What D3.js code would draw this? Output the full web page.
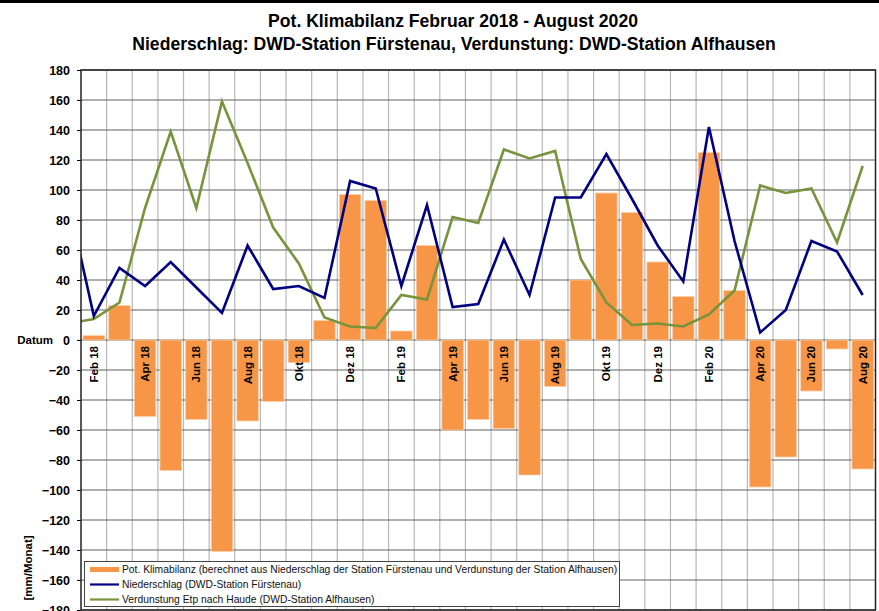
<!DOCTYPE html>
<html>
<head>
<meta charset="utf-8">
<script src="https://cdn.jsdelivr.net/npm/d3@7"></script>
<style>
  html, body { margin: 0; padding: 0; background: #fff; }
  svg { display: block; font-family: "Liberation Sans", Arial, sans-serif; }
</style>
</head>
<body>
<svg id="chart" width="879" height="611"></svg>
<script>
// Months: Jan 18 is only used for the clipped line segment at the left edge
const months = ["Jan 18","Feb 18","Mrz 18","Apr 18","Mai 18","Jun 18","Jul 18","Aug 18","Sep 18","Okt 18","Nov 18","Dez 18",
  "Jan 19","Feb 19","Mrz 19","Apr 19","Mai 19","Jun 19","Jul 19","Aug 19","Sep 19","Okt 19","Nov 19","Dez 19",
  "Jan 20","Feb 20","Mrz 20","Apr 20","Mai 20","Jun 20","Jul 20","Aug 20"];
const barMonths = months.slice(1);
const tickLabels = ["Feb 18","Apr 18","Jun 18","Aug 18","Okt 18","Dez 18","Feb 19","Apr 19","Jun 19","Aug 19","Okt 19","Dez 19","Feb 20","Apr 20","Jun 20","Aug 20"];
// Pot. Klimabilanz (Feb 18 – Aug 20)
const klimabilanz = [3,23,-51,-87,-53,-141,-54,-41,-15,13,97,93,6,63,-60,-53,-59,-90,-31,40,98,85,52,29,125,33,-98,-78,-34,-6,-86];
// Niederschlag (Jan 18 – Aug 20)
const niederschlag = [93,16,48,36,52,35,18,63,34,36,28,106,101,36,90,22,24,67,30,95,95,124,94,63,39,142,66,5,20,66,59,30];
// Verdunstung Etp nach Haude (Jan 18 – Aug 20)
const verdunstung = [11,14,25,88,139,88,159,118,75,51,15,9,8,30,27,82,78,127,121,126,54,25,10,11,9,17,33,103,98,101,65,116];
const yTicks = d3.range(-180, 181, 20);
const title1 = "Pot. Klimabilanz Februar 2018 - August 2020";
const title2 = "Niederschlag: DWD-Station Fürstenau, Verdunstung: DWD-Station Alfhausen";
const legendLabels = [
  "Pot. Klimabilanz (berechnet aus Niederschlag der Station Fürstenau und Verdunstung der Station Alfhausen)",
  "Niederschlag (DWD-Station Fürstenau)",
  "Verdunstung Etp nach Haude (DWD-Station Alfhausen)"
];

const colBar = "#F79646", colN = "#000080", colV = "#77933C";
const L = 81, R = 875.5, T = 70, B = 610;
const bw = (R - L) / barMonths.length;

const svg = d3.select("#chart");
const x = d3.scaleBand().domain(months).range([L - bw, R]).paddingInner(0.16).paddingOuter(0.08);
const xc = d3.scalePoint().domain(months).range([L - bw / 2, R - bw / 2]);
const y = d3.scaleLinear().domain([-180, 180]).range([B, T]);

// top black rule
svg.append("rect").attr("x", 0).attr("y", 0).attr("width", 879).attr("height", 3).attr("fill", "#000");

// titles
svg.append("text").attr("x", 453).attr("y", 27).attr("text-anchor", "middle")
  .attr("font-size", 17.6).attr("font-weight", "bold").text(title1);
svg.append("text").attr("x", 454).attr("y", 50).attr("text-anchor", "middle")
  .attr("font-size", 17.6).attr("font-weight", "bold").text(title2);

// vertical gridlines at category boundaries
const vb = d3.range(1, barMonths.length).map(i => L + i * bw);
svg.append("g").selectAll("line").data(vb).join("line")
  .attr("x1", d => d).attr("x2", d => d).attr("y1", T).attr("y2", B)
  .attr("stroke", "#b8b8b8").attr("stroke-width", 1.2);

// horizontal gridlines
svg.append("g").selectAll("line").data(yTicks).join("line")
  .attr("x1", L).attr("x2", R).attr("y1", d => y(d)).attr("y2", d => y(d))
  .attr("stroke", "#606060").attr("stroke-width", 1);

// bars
svg.append("g").selectAll("rect").data(klimabilanz).join("rect")
  .attr("x", (d, i) => x(barMonths[i]))
  .attr("width", x.bandwidth())
  .attr("y", d => y(Math.max(0, d)))
  .attr("height", d => Math.abs(y(d) - y(0)))
  .attr("fill", colBar).attr("stroke", "#fbd0ac").attr("stroke-width", 0.8);

// clip for lines
svg.append("clipPath").attr("id", "plotclip").append("rect")
  .attr("x", L).attr("y", T).attr("width", R - L).attr("height", B - T);

const line = d3.line().x((d, i) => xc(months[i])).y(d => y(d));
svg.append("path").datum(verdunstung).attr("d", line).attr("fill", "none")
  .attr("stroke", colV).attr("stroke-width", 2.6).attr("clip-path", "url(#plotclip)");
svg.append("path").datum(niederschlag).attr("d", line).attr("fill", "none")
  .attr("stroke", colN).attr("stroke-width", 2.6).attr("clip-path", "url(#plotclip)");

// x tick labels (rotated, inside plot below zero)
svg.append("g").selectAll("text").data(tickLabels).join("text")
  .attr("transform", d => `translate(${xc(d) + 4},${y(0) + 6}) rotate(-90)`)
  .attr("text-anchor", "end")
  .attr("font-size", 11.5).attr("font-weight", "bold").attr("fill", "#000")
  .text(d => d);

// y axis
const yAxis = d3.axisLeft(y).tickValues(yTicks).tickSize(4).tickPadding(7);
const ga = svg.append("g").attr("transform", `translate(${L},0)`).call(yAxis);
ga.select(".domain").remove();
ga.selectAll(".tick line").attr("stroke", "#000");
ga.selectAll(".tick text").attr("font-size", 12.5).attr("font-weight", "bold")
  .attr("font-family", "'Liberation Sans', Arial, sans-serif").attr("fill", "#000");

// plot frame
svg.append("rect").attr("x", L).attr("y", T).attr("width", R - L).attr("height", B - T)
  .attr("fill", "none").attr("stroke", "#222").attr("stroke-width", 1.5);

// Datum label
svg.append("text").attr("x", 53).attr("y", y(0)).attr("dy", "0.35em").attr("text-anchor", "end")
  .attr("font-size", 11.5).attr("font-weight", "bold").text("Datum");

// y-axis title
svg.append("text").attr("transform", `translate(32,568) rotate(-90)`).attr("text-anchor", "middle")
  .attr("font-size", 11.5).attr("font-weight", "bold").text("[mm/Monat]");

// legend
const lg = svg.append("g");
lg.append("rect").attr("x", 84.5).attr("y", 561.5).attr("width", 535).attr("height", 45)
  .attr("fill", "#fff").attr("stroke", "#444").attr("stroke-width", 1);
const legendColors = [colBar, colN, colV];
const legendWidths = [5, 2.2, 2.2];
const ly = d3.scalePoint().domain(d3.range(3)).range([569.5, 599.5]);
legendLabels.forEach((t, i) => {
  lg.append("line").attr("x1", 90).attr("x2", 119).attr("y1", ly(i)).attr("y2", ly(i))
    .attr("stroke", legendColors[i]).attr("stroke-width", legendWidths[i]);
  lg.append("text").attr("x", 122).attr("y", ly(i)).attr("dy", "0.35em")
    .attr("font-size", 10.3).attr("fill", "#111").text(t);
});
</script>
</body>
</html>
